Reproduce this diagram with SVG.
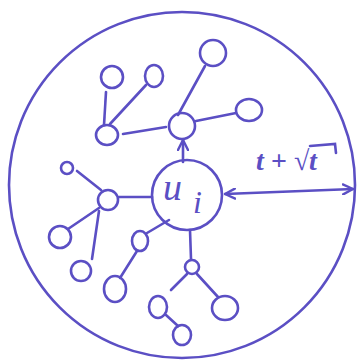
<svg xmlns="http://www.w3.org/2000/svg" width="361" height="362" viewBox="0 0 361 362">
<defs>
<style>
.n{fill:none;stroke:#5b4fc4;stroke-width:2.6}
.e{fill:none;stroke:#5b4fc4;stroke-width:2.6;stroke-linecap:round}
.t{fill:#5b4fc4;font-family:"Liberation Serif",serif;font-style:italic}
</style>
<marker id="ah" viewBox="0 0 12 12" refX="11" refY="6" markerWidth="12" markerHeight="12" markerUnits="userSpaceOnUse" orient="auto-start-reverse">
<path d="M1,1 L11,6 L1,11" fill="none" stroke="#5b4fc4" stroke-width="2.4" stroke-linecap="round"/>
</marker>
</defs>
<rect width="361" height="362" fill="#ffffff"/>
<g id="boundary"><ellipse class="n" cx="182" cy="185" rx="173" ry="173"/></g>
<g id="connectors">
<line class="e" x1="183" y1="162" x2="183" y2="140" marker-end="url(#ah)"/>
<line class="e" x1="178" y1="115" x2="205" y2="66"/>
<line class="e" x1="196" y1="121" x2="236" y2="113"/>
<line class="e" x1="123" y1="134" x2="166" y2="127"/>
<line class="e" x1="106" y1="92" x2="104" y2="125"/>
<line class="e" x1="146" y1="85" x2="110" y2="124"/>
<line class="e" x1="119" y1="197" x2="152" y2="197"/>
<line class="e" x1="77" y1="171" x2="101" y2="190"/>
<line class="e" x1="99" y1="208" x2="68" y2="229"/>
<line class="e" x1="99" y1="211" x2="92" y2="259"/>
<line class="e" x1="169" y1="220" x2="147" y2="233"/>
<line class="e" x1="137" y1="251" x2="120" y2="278"/>
<line class="e" x1="190" y1="230" x2="191" y2="259"/>
<line class="e" x1="187" y1="274" x2="171" y2="290"/>
<line class="e" x1="197" y1="274" x2="218" y2="297"/>
<line class="e" x1="166" y1="315" x2="178" y2="326"/>
<line class="e" x1="225" y1="194" x2="353" y2="189" marker-start="url(#ah)" marker-end="url(#ah)"/>
</g>
<g id="ui"><circle class="n" cx="187" cy="195" r="35"/>
<text class="t" x="163" y="200" font-size="38">u</text><text class="t" x="193" y="213" font-size="32">i</text></g>
<g id="a"><circle class="n" cx="182" cy="126" r="13"/></g>
<g id="a1"><circle class="n" cx="213" cy="53" r="13"/></g>
<g id="a2"><ellipse class="n" cx="249" cy="110" rx="13" ry="11"/></g>
<g id="b"><ellipse class="n" cx="107" cy="135" rx="11" ry="10"/></g>
<g id="b1"><circle class="n" cx="112" cy="77" r="11"/></g>
<g id="b2"><ellipse class="n" cx="154" cy="76" rx="9" ry="11"/></g>
<g id="c"><circle class="n" cx="108" cy="200" r="10"/></g>
<g id="c1"><circle class="n" cx="67" cy="168" r="6"/></g>
<g id="c2"><circle class="n" cx="60" cy="237" r="11"/></g>
<g id="c3"><circle class="n" cx="81" cy="271" r="10"/></g>
<g id="d"><ellipse class="n" cx="140" cy="241" rx="8" ry="10"/></g>
<g id="d1"><ellipse class="n" cx="115" cy="289" rx="11" ry="13"/></g>
<g id="e"><circle class="n" cx="192" cy="267" r="7"/></g>
<g id="e1"><ellipse class="n" cx="158" cy="307" rx="9" ry="11"/></g>
<g id="e2"><ellipse class="n" cx="225" cy="308" rx="13" ry="12"/></g>
<g id="e3"><ellipse class="n" cx="182" cy="335" rx="9" ry="10"/></g>
<g id="label">
<text class="t" x="256" y="170" font-size="28" font-weight="bold">t + √t</text>
<path class="e" d="M310,146 L335,144 L336,153"/>
</g>
</svg>
